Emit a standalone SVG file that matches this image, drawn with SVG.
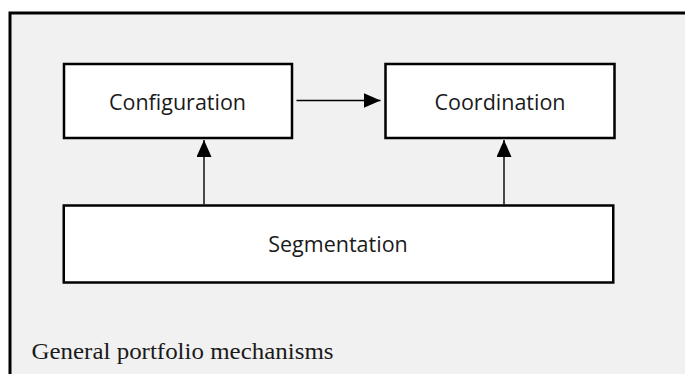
<svg xmlns="http://www.w3.org/2000/svg" width="685" height="374" viewBox="0 0 685 374">
  <defs>
    <style>
      .frame { fill: #f1f1f1; stroke: #000; stroke-width: 3; }
      .box { fill: #ffffff; stroke: #000; stroke-width: 2.5; }
      .lbl { font-family: "Open Sans", "Noto Sans", sans-serif; font-size: 21.5px; fill: #1a1a1a; text-anchor: middle; }
      .cap { font-family: "Liberation Serif", "Times New Roman", serif; font-size: 23px; fill: #1a1a1a; }
      .conn { stroke: #000; stroke-width: 1.4; fill: none; }
    </style>
    <marker id="arrow" viewBox="0 0 17 15" refX="17" refY="7.5" markerWidth="17" markerHeight="15" markerUnits="userSpaceOnUse" orient="auto">
      <path d="M0,0 L17,7.5 L0,15 Z" fill="#000"/>
    </marker>
  </defs>
  <rect width="685" height="374" fill="#ffffff"/>
  <rect id="frame" class="frame" x="10" y="13" width="700" height="400"/>

  <g id="configuration">
    <rect class="box" x="64" y="64" width="228" height="74"/>
    <text class="lbl" x="177.5" y="110">Configuration</text>
  </g>
  <g id="coordination">
    <rect class="box" x="385.5" y="64" width="229" height="74"/>
    <text class="lbl" x="500" y="110">Coordination</text>
  </g>
  <g id="segmentation">
    <rect class="box" x="63.75" y="205.5" width="549.5" height="77"/>
    <text class="lbl" x="338" y="252">Segmentation</text>
  </g>

  <g id="connectors">
    <line class="conn" x1="296.5" y1="100.5" x2="380.5" y2="100.5" marker-end="url(#arrow)"/>
    <line class="conn" x1="204" y1="204.5" x2="204" y2="140" marker-end="url(#arrow)"/>
    <line class="conn" x1="504" y1="204.5" x2="504" y2="140" marker-end="url(#arrow)"/>
  </g>

  <g id="caption">
    <text class="cap" x="31.5" y="358.5" textLength="302" lengthAdjust="spacingAndGlyphs">General portfolio mechanisms</text>
  </g>
</svg>
